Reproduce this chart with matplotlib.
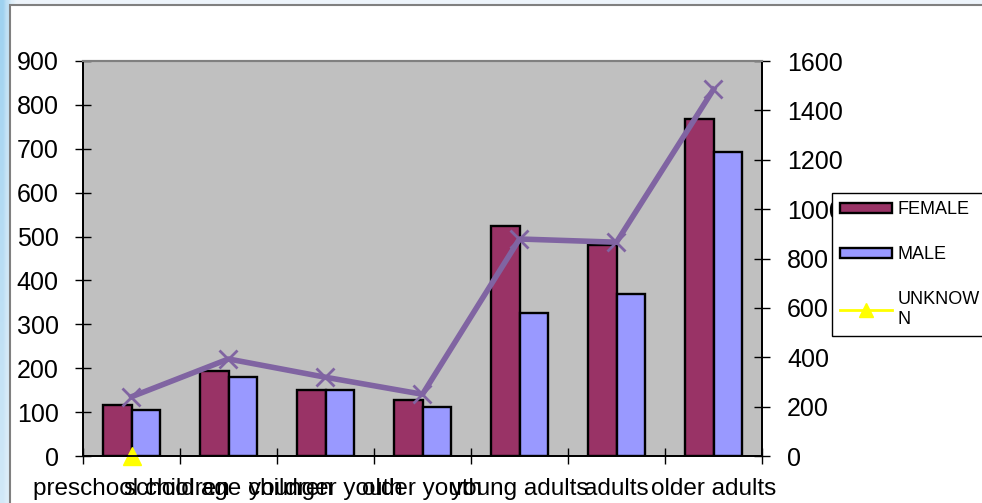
import numpy as np
import matplotlib.pyplot as plt
from matplotlib.patches import Rectangle
from matplotlib.lines import Line2D

plt.rcParams['font.family'] = ['Liberation Sans', 'DejaVu Sans']

# Client counts by age group
categories = ['preschool children', 'school age children', 'younger youth',
              'older youth', 'young adults', 'adults', 'older adults']
female = [117, 193, 150, 127, 525, 481, 767]
male = [105, 181, 151, 112, 326, 369, 693]
unknown = [0, np.nan, np.nan, np.nan, np.nan, np.nan, np.nan]
totals = [240, 393, 319, 250, 879, 866, 1485]

W, H = 982, 503
fig = plt.figure(figsize=(W / 100, H / 100), dpi=100)
fig.patch.set_facecolor('#eef5fb')

# Slide background: blue gradient down the left edge, white card with grey border
bg = fig.add_axes([0, 0, 1, 1], zorder=-10)
bg.set_axis_off()
yy, xx = np.mgrid[0:1:200j, 0:1:200j]
t = np.clip(1 - xx * 982 / 12, 0, 1) * (0.35 + 0.65 * (1 - yy))
c0 = np.array([0.93, 0.96, 0.985])
c1 = np.array([0.62, 0.82, 0.94])
img = c0 * (1 - t[..., None]) + c1 * t[..., None]
bg.imshow(img, extent=[0, 1, 0, 1], aspect='auto', origin='upper')
bg.add_patch(Rectangle((10 / W, -0.1), 1.2, 1 - 5 / H + 0.1, transform=fig.transFigure,
                       facecolor='white', edgecolor='#808080', linewidth=1.5))
bg.set_xlim(0, 1)
bg.set_ylim(0, 1)

left, right, top, bottom = 83, 762, 61, 456
ax = fig.add_axes([left / W, 1 - bottom / H, (right - left) / W, (bottom - top) / H])
ax.set_facecolor('#c0c0c0')

x = np.arange(len(categories))
bw = 0.29
ax.bar(x - bw / 2, female, bw, color='#993366', edgecolor='black', linewidth=1.7,
       label='FEMALE', zorder=2)
ax.bar(x + bw / 2, male, bw, color='#9999ff', edgecolor='black', linewidth=1.7,
       label='MALE', zorder=2)
ax.plot(x, unknown, color='#ffff00', marker='^', markersize=13, linewidth=2,
        label='UNKNOW\nN', zorder=5, clip_on=False)

ax.set_xlim(-0.5, len(categories) - 0.5)
ax.set_ylim(0, 900)
ax.set_yticks(np.arange(0, 901, 100))
ax.set_xticks(np.arange(len(categories) + 1) - 0.5)
ax.set_xticklabels([])
ax.set_xticks(x, minor=True)
ax.set_xticklabels(categories, minor=True, fontsize=17.5)
ax.tick_params(axis='x', which='minor', length=0, pad=15.5)
ax.tick_params(axis='x', which='major', direction='inout', length=12, width=1)
ax.tick_params(axis='y', direction='inout', length=11, width=1, pad=12, labelsize=18)

ax2 = ax.twinx()
ax2.plot(x, totals, color='#8064a2', linewidth=4, marker='x', markersize=13,
         markeredgewidth=2, zorder=4)
ax2.set_ylim(0, 1600)
ax2.set_yticks(np.arange(0, 1601, 200))
ax2.tick_params(axis='y', direction='inout', length=12, width=1, pad=12, labelsize=18)

for a in (ax, ax2):
    a.spines['top'].set_color('#808080')
    a.spines['top'].set_linewidth(1.5)
    for s in ('left', 'right', 'bottom'):
        a.spines[s].set_color('black')
        a.spines[s].set_linewidth(1.3)

handles = [
    Rectangle((0, 0), 1, 1, facecolor='#993366', edgecolor='black', linewidth=1.7),
    Rectangle((0, 0), 1, 1, facecolor='#9999ff', edgecolor='black', linewidth=1.7),
    Line2D([], [], color='#ffff00', marker='^', markersize=10, linewidth=2),
]
leg = fig.legend(handles, ['FEMALE', 'MALE', 'UNKNOW\nN'], loc='upper left',
                 bbox_to_anchor=(832 / W, 1 - 193 / H), borderaxespad=0,
                 fontsize=13, frameon=True, fancybox=False, framealpha=1,
                 edgecolor='black', handlelength=2.9, handleheight=0.5,
                 handletextpad=0.3, labelspacing=1.55, borderpad=0.45)
leg.get_frame().set_linewidth(1)

fig.savefig('out.png', dpi=100)
